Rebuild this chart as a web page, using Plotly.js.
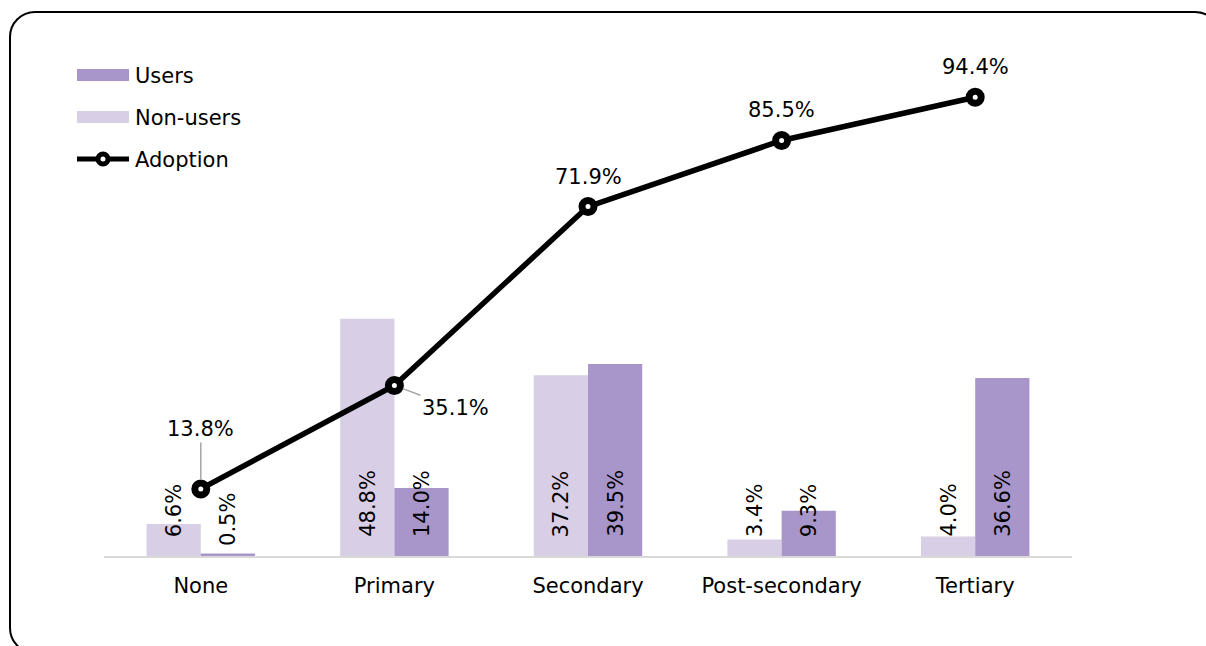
<!DOCTYPE html>
<html>
<head>
<meta charset="utf-8">
<script src="https://cdn.plot.ly/plotly-3.0.1.min.js"></script>
<style>
  html, body { margin: 0; padding: 0; background: #fff; overflow: hidden; }
  #wrap { position: relative; width: 1206px; height: 646px; }
  #chart { position: absolute; left: 0; top: 0; width: 1206px; height: 646px; }
  #frame {
    position: absolute; left: 9px; top: 11px; width: 1212px; height: 643px;
    box-sizing: border-box; border: 2px solid #000; border-radius: 26px;
    pointer-events: none;
  }
</style>
</head>
<body>
<div id="wrap"><div id="chart"></div><div id="frame"></div></div>
<script>
// Education level categories
const categories = ['None', 'Primary', 'Secondary', 'Post-secondary', 'Tertiary'];
// Share of each group (%) by education level
const nonUsers = [6.6, 48.8, 37.2, 3.4, 4.0];
const users = [0.5, 14.0, 39.5, 9.3, 36.6];
// Adoption rate (%) by education level
const adoption = [13.8, 35.1, 71.9, 85.5, 94.4];
// Series names
const nameUsers = 'Users';
const nameNonUsers = 'Non-users';
const nameAdoption = 'Adoption';

// Styling / geometry
const W = 1206, H = 646;
const M = { l: 104, r: 134, t: 70, b: 90 };
const plotW = W - M.l - M.r;
const plotH = H - M.t - M.b;
const Y_MAX = 100;
const pxPerUnit = plotH / Y_MAX;
const BARGAP = 0.44;
const barPx = plotW / categories.length * (1 - BARGAP) / 2;
const FONT = 'DejaVu Sans, Verdana, sans-serif';
const FS = 21;
const C_USERS = '#A895C9';
const C_NONUSERS = '#D8CEE6';
const C_LEADER = '#A6A6A6';

const fmt = v => v.toFixed(1) + '%';
const px2x = px => (px - M.l) / plotW;
const px2y = py => (H - M.b - py) / plotH;

const traces = [
  {
    type: 'bar', name: nameNonUsers, x: categories, y: nonUsers,
    marker: { color: C_NONUSERS, line: { width: 0 } }, hoverinfo: 'skip'
  },
  {
    type: 'bar', name: nameUsers, x: categories, y: users,
    marker: { color: C_USERS, line: { width: 0 } }, hoverinfo: 'skip'
  },
  {
    type: 'scatter', mode: 'lines+markers', name: nameAdoption,
    x: categories, y: adoption,
    line: { color: '#000', width: 5.5 },
    marker: { symbol: 'circle', size: 12, color: '#fff', line: { color: '#000', width: 7 } },
    hoverinfo: 'skip', cliponaxis: false
  }
];

const annotations = [];
const shapes = [];

// Rotated value labels at the base of each bar
function barLabel(cat, v, side) {
  const h = v * pxPerUnit;
  const shift = h < 5 ? h + 6 : 17;
  annotations.push({
    x: cat, y: 0, xref: 'x', yref: 'y', text: fmt(v), textangle: -90,
    showarrow: false, xanchor: 'center', yanchor: 'bottom',
    xshift: side * barPx / 2, yshift: shift,
    font: { family: FONT, size: FS, color: '#000' }
  });
}
categories.forEach((c, i) => {
  barLabel(c, nonUsers[i], -1);
  barLabel(c, users[i], 1);
});

// Adoption labels
categories.forEach((c, i) => {
  const base = {
    x: c, y: adoption[i], xref: 'x', yref: 'y', text: fmt(adoption[i]),
    font: { family: FONT, size: FS, color: '#000' }
  };
  if (i === 0) {
    annotations.push(Object.assign(base, {
      showarrow: true, arrowhead: 0, arrowwidth: 1.5, arrowcolor: C_LEADER,
      ax: 0, ay: -60, standoff: 9
    }));
  } else if (i === 1) {
    annotations.push(Object.assign(base, {
      showarrow: true, arrowhead: 0, arrowwidth: 1.5, arrowcolor: C_LEADER,
      ax: 61, ay: 23, standoff: 9
    }));
  } else {
    annotations.push(Object.assign(base, {
      showarrow: false, xanchor: 'center', yanchor: 'bottom', yshift: 16
    }));
  }
});

// Legend (top-left)
const legendRows = [
  { name: nameUsers, kind: 'bar', color: C_USERS, cy: 75 },
  { name: nameNonUsers, kind: 'bar', color: C_NONUSERS, cy: 117 },
  { name: nameAdoption, kind: 'line', color: '#000', cy: 159 }
];
const LX0 = 77, LX1 = 129, LTX = 133;
legendRows.forEach(r => {
  if (r.kind === 'bar') {
    shapes.push({
      type: 'rect', xref: 'paper', yref: 'paper',
      x0: px2x(LX0), x1: px2x(LX1), y0: px2y(r.cy - 6), y1: px2y(r.cy + 6),
      fillcolor: r.color, line: { width: 0 }
    });
  } else {
    shapes.push({
      type: 'line', xref: 'paper', yref: 'paper',
      x0: px2x(LX0), x1: px2x(LX1), y0: px2y(r.cy), y1: px2y(r.cy),
      line: { color: r.color, width: 5 }
    });
    const cx = (LX0 + LX1) / 2;
    shapes.push({
      type: 'circle', xref: 'paper', yref: 'paper',
      x0: px2x(cx - 5), x1: px2x(cx + 5), y0: px2y(r.cy + 5), y1: px2y(r.cy - 5),
      fillcolor: '#fff', line: { color: '#000', width: 5 }
    });
  }
  annotations.push({
    xref: 'paper', yref: 'paper', x: px2x(LTX), y: px2y(r.cy + 1),
    xanchor: 'left', yanchor: 'middle', showarrow: false, text: r.name,
    font: { family: FONT, size: FS, color: '#000' }
  });
});

const layout = {
  width: W, height: H,
  margin: M,
  paper_bgcolor: '#fff', plot_bgcolor: '#fff',
  showlegend: false,
  barmode: 'group', bargap: BARGAP, bargroupgap: 0,
  font: { family: FONT, size: FS, color: '#000' },
  xaxis: {
    type: 'category', showgrid: false, zeroline: false,
    showline: true, linecolor: '#D9D9D9', linewidth: 2,
    ticks: '', ticklabelstandoff: 10,
    tickfont: { family: FONT, size: FS, color: '#000' },
    fixedrange: true
  },
  yaxis: {
    range: [0, Y_MAX], visible: false, showgrid: false, zeroline: false,
    fixedrange: true
  },
  annotations: annotations,
  shapes: shapes,
  hovermode: false
};

Plotly.newPlot('chart', traces, layout, { displayModeBar: false, staticPlot: true });
</script>
</body>
</html>
